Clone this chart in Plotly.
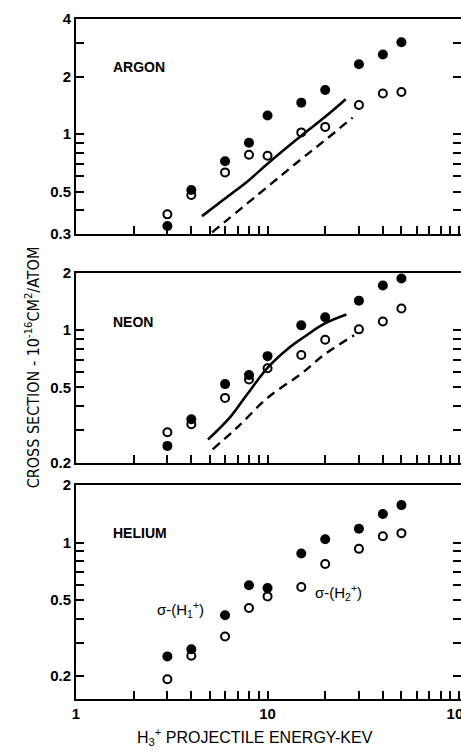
# %%
# imports
import plotly.graph_objects as go
from plotly.subplots import make_subplots

# %%
# Data
energy = [3, 4, 6, 8, 10, 15, 20, 30, 40, 50]

# Argon
argon_h1 = [0.33, 0.51, 0.72, 0.90, 1.25, 1.46, 1.70, 2.32, 2.61, 3.02]
argon_h2 = [0.38, 0.48, 0.63, 0.78, 0.77, 1.02, 1.09, 1.42, 1.63, 1.66]
argon_solid_e = [4.55, 6, 8, 10, 15, 20, 25.6]
argon_solid_y = [0.372, 0.46, 0.574, 0.70, 0.98, 1.23, 1.52]
argon_dash_e = [5.13, 10, 15, 20, 27.8]
argon_dash_y = [0.306, 0.53, 0.74, 0.93, 1.22]

# Neon
neon_h1 = [0.246, 0.34, 0.52, 0.58, 0.73, 1.06, 1.17, 1.43, 1.72, 1.87]
neon_h2 = [0.29, 0.32, 0.44, 0.55, 0.63, 0.74, 0.89, 1.01, 1.11, 1.30]
neon_solid_e = [4.89, 6.4, 7.83, 10.1, 13.2, 15.5, 19.7, 25.8]
neon_solid_y = [0.266, 0.35, 0.46, 0.64, 0.82, 0.92, 1.08, 1.21]
neon_dash_e = [5.17, 7, 10, 15, 20, 28.3]
neon_dash_y = [0.236, 0.31, 0.44, 0.59, 0.75, 0.94]

# Helium
helium_h1 = [0.254, 0.277, 0.417, 0.598, 0.579, 0.876, 1.04, 1.18, 1.41, 1.57]
helium_h2 = [0.193, 0.256, 0.323, 0.455, 0.523, 0.586, 0.773, 0.927, 1.08, 1.12]

# axis ticks (blank labels = minor ticks)
x_ticks = [1, 2, 3, 4, 5, 6, 7, 8, 9, 10, 20, 30, 40, 50, 60, 70, 80, 90, 100]
x_labels = ["1"] + [" "] * 8 + ["10"] + [" "] * 8 + ["100"]
argon_ticks = [0.3, 0.4, 0.5, 0.6, 0.7, 0.8, 0.9, 1, 2, 3, 4]
argon_labels = ["0.3", " ", "0.5", " ", " ", " ", " ", "1", "2", " ", "4"]
neon_ticks = [0.2, 0.3, 0.4, 0.5, 0.6, 0.7, 0.8, 0.9, 1, 2]
neon_labels = ["0.2", " ", " ", "0.5", " ", " ", " ", " ", "1", "2"]
helium_ticks = [0.2, 0.3, 0.4, 0.5, 0.6, 0.7, 0.8, 0.9, 1, 2]
helium_labels = ["0.2", " ", " ", "0.5", " ", " ", " ", " ", "1", "2"]

# %%
FONT = "Liberation Sans"
fig = make_subplots(rows=3, cols=1)

panels = [
    (1, argon_h1, argon_h2, argon_solid_e, argon_solid_y, argon_dash_e, argon_dash_y),
    (2, neon_h1, neon_h2, neon_solid_e, neon_solid_y, neon_dash_e, neon_dash_y),
    (3, helium_h1, helium_h2, None, None, None, None),
]
for row, h1, h2, se, sy, de, dy in panels:
    if se is not None:
        fig.add_trace(
            go.Scatter(x=se, y=sy, mode="lines", line=dict(color="black", width=2.6, shape="spline")),
            row=row, col=1,
        )
        fig.add_trace(
            go.Scatter(x=de, y=dy, mode="lines",
                       line=dict(color="black", width=2.4, dash="9px,6px", shape="spline")),
            row=row, col=1,
        )
    # open circles, sigma(H2+)
    fig.add_trace(
        go.Scatter(x=energy, y=h2, mode="markers",
                   marker=dict(symbol="circle-open", size=8, color="black", line=dict(width=2))),
        row=row, col=1,
    )
    # filled circles, sigma(H1+)
    fig.add_trace(
        go.Scatter(x=energy, y=h1, mode="markers",
                   marker=dict(symbol="circle", size=10, color="black")),
        row=row, col=1,
    )

# %%
# layout: domains
domains = [[0.6838, 1.0], [0.3471, 0.6265], [0.0, 0.3147]]
yranges = [[-0.523, 0.602], [-0.699, 0.301], [-0.818, 0.301]]
yticks = [argon_ticks, neon_ticks, helium_ticks]
ylabels = [argon_labels, neon_labels, helium_labels]

for i in range(3):
    fig.update_xaxes(
        type="log", range=[0, 2.01], automargin=False,
        tickmode="array", tickvals=x_ticks, ticktext=x_labels, tickangle=0,
        showticklabels=True if i == 2 else False, ticklabeloverflow="allow",
        ticks="inside", ticklen=8, tickwidth=2, tickcolor="black",
        showline=True, linecolor="black", linewidth=2, mirror=True,
        showgrid=False, zeroline=False,
        tickfont=dict(family=FONT, size=15, color="black", weight="bold"),
        row=i + 1, col=1,
    )
    fig.update_yaxes(
        type="log", range=yranges[i], domain=domains[i], automargin=False,
        tickmode="array", tickvals=yticks[i], ticktext=ylabels[i], tickangle=0,
        ticklabeloverflow="allow",
        ticks="inside", ticklen=8, tickwidth=2, tickcolor="black",
        showline=True, linecolor="black", linewidth=2, mirror="ticks",
        showgrid=False, zeroline=False,
        tickfont=dict(family=FONT, size=15, color="black", weight="bold"),
        row=i + 1, col=1,
    )

# panel names
for name, y in [("ARGON", 0.929), ("NEON", 0.554), ("HELIUM", 0.244)]:
    fig.add_annotation(text=name, xref="paper", yref="paper", x=0.091, y=y,
                       xanchor="left", yanchor="middle", showarrow=False,
                       font=dict(family=FONT, size=14, color="black", weight="bold"))

# sigma labels in the helium panel
fig.add_annotation(text="σ-(H<sub>1</sub><sup>+</sup>)", xref="paper", yref="paper",
                   x=0.205, y=0.132, xanchor="left", yanchor="middle", showarrow=False,
                   font=dict(family=FONT, size=15, color="black"))
fig.add_annotation(text="σ-(H<sub>2</sub><sup>+</sup>)", xref="paper", yref="paper",
                   x=0.616, y=0.156, xanchor="left", yanchor="middle", showarrow=False,
                   font=dict(family=FONT, size=15, color="black"))

# axis titles
fig.add_annotation(text="H<sub>3</sub><sup>+</sup> PROJECTILE ENERGY-KEV", xref="paper", yref="paper",
                   x=0.465, y=-0.056, xanchor="center", yanchor="middle", showarrow=False,
                   font=dict(family=FONT, size=16, color="black"))
fig.add_annotation(text="CROSS SECTION - 10<sup>-16</sup>CM<sup>2</sup>/ATOM", xref="paper", yref="paper",
                   x=-0.114, y=0.488, xanchor="center", yanchor="middle", textangle=-90,
                   showarrow=False,
                   font=dict(family="Liberation Sans Narrow, DejaVu Sans Condensed", size=16, color="black"))

fig.update_layout(
    width=461, height=756,
    margin=dict(l=76, r=0, t=19, b=57),
    showlegend=False,
    plot_bgcolor="white", paper_bgcolor="white",
)
# drop the default page margin so the figure sits at the window corner
fig.write_html("out.html", config={"displayModeBar": False},
               post_script="document.body.style.margin='0';")
